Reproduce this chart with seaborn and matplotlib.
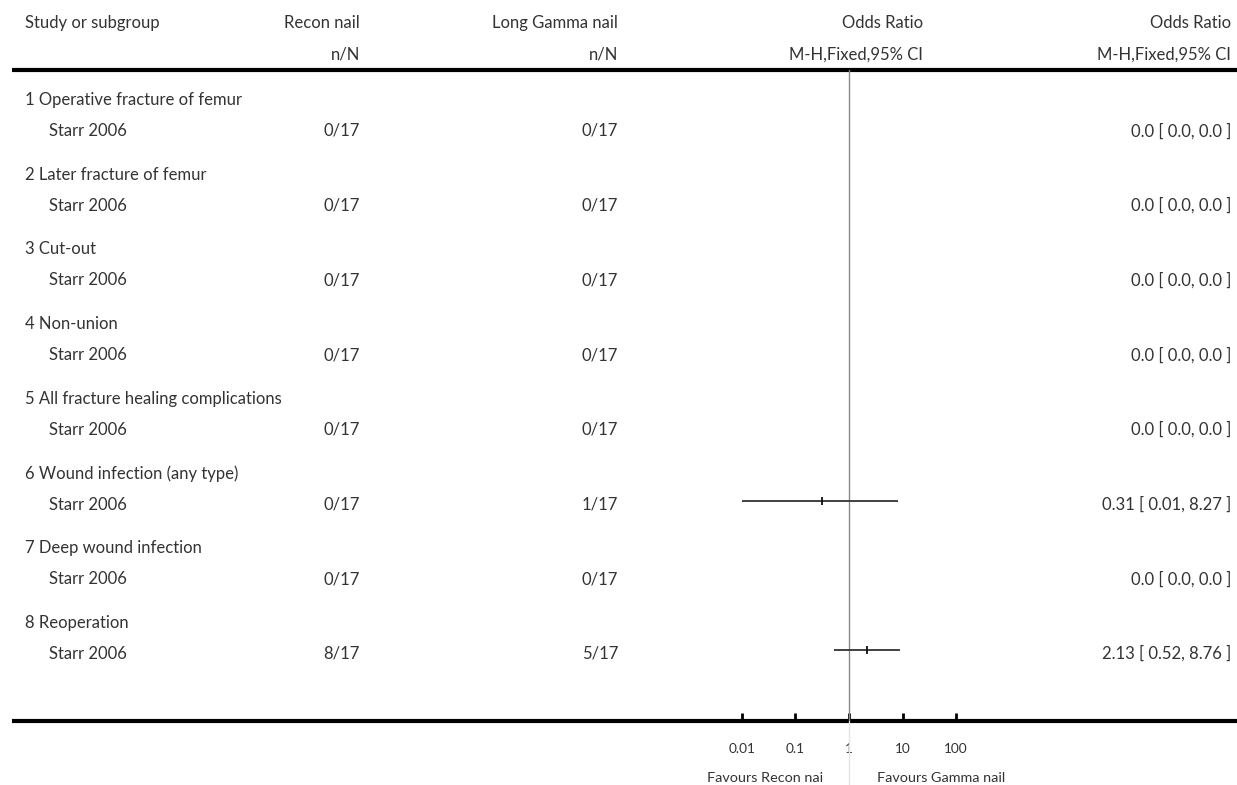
import matplotlib
matplotlib.use("Agg")
import matplotlib.pyplot as plt
import seaborn as sns
import pandas as pd
import numpy as np

# ---------------- data ----------------
outcomes = [
    "1 Operative fracture of femur",
    "2 Later fracture of femur",
    "3 Cut-out",
    "4 Non-union",
    "5 All fracture healing complications",
    "6 Wound infection (any type)",
    "7 Deep wound infection",
    "8 Reoperation",
]
studies = ["Starr 2006"] * 8
recon_events = [0, 0, 0, 0, 0, 0, 0, 8]
recon_total = [17, 17, 17, 17, 17, 17, 17, 17]
gamma_events = [0, 0, 0, 0, 0, 1, 0, 5]
gamma_total = [17, 17, 17, 17, 17, 17, 17, 17]
or_est = [None, None, None, None, None, 0.31, None, 2.13]
ci_low = [None, None, None, None, None, 0.01, None, 0.52]
ci_high = [None, None, None, None, None, 8.27, None, 8.76]
or_text = ["0.0 [ 0.0, 0.0 ]"] * 5 + ["0.31 [ 0.01, 8.27 ]", "0.0 [ 0.0, 0.0 ]", "2.13 [ 0.52, 8.76 ]"]
tick_vals = [0.01, 0.1, 1, 10, 100]
tick_labels = ["0.01", "0.1", "1", "10", "100"]
favours_left = "Favours Recon nai"
favours_right = "Favours Gamma nail"

# ---------------- style ----------------
sns.set_theme(style="white")
plt.rcParams["font.family"] = ["Lato", "DejaVu Sans"]
TXT = "#333333"
FS = 12.0

W, H = 1237, 785
fig = plt.figure(figsize=(W / 100, H / 100), dpi=100)
bg = fig.add_axes([0, 0, 1, 1])
bg.set_xlim(0, W)
bg.set_ylim(H, 0)
bg.axis("off")

# layout (pixel positions)
x_study, x_sub = 25, 49
x_recon, x_gamma, x_or_hdr, x_or_txt = 360, 618, 923, 1231
y_top_line, y_bot_line = 70, 721
y_group0, row_step, sub_off = 100, 74.7, 31

def t(x, y, s, ha="left", size=FS, **kw):
    bg.text(x, y, s, ha=ha, va="center", fontsize=size, color=TXT, **kw)

# header
t(x_study, 23, "Study or subgroup")
t(x_recon, 23, "Recon nail", ha="right")
t(x_gamma, 23, "Long Gamma nail", ha="right")
t(x_or_hdr, 23, "Odds Ratio", ha="right")
t(x_or_txt, 23, "Odds Ratio", ha="right")
t(x_recon, 55, "n/N", ha="right")
t(x_gamma, 55, "n/N", ha="right")
t(x_or_hdr, 55, "M-H,Fixed,95% CI", ha="right")
t(x_or_txt, 55, "M-H,Fixed,95% CI", ha="right")
bg.plot([12, W], [y_top_line, y_top_line], color="black", lw=3, solid_capstyle="butt")
bg.plot([12, W], [y_bot_line, y_bot_line], color="black", lw=3, solid_capstyle="butt")

# rows
row_y = []
for i, name in enumerate(outcomes):
    yg = y_group0 + i * row_step
    ys = yg + sub_off
    row_y.append(ys - 4)
    t(x_study, yg, name)
    t(x_sub, ys, studies[i])
    t(x_recon, ys, f"{recon_events[i]}/{recon_total[i]}", ha="right")
    t(x_gamma, ys, f"{gamma_events[i]}/{gamma_total[i]}", ha="right")
    t(x_or_txt, ys, or_text[i], ha="right")

# ---------------- forest axes ----------------
px_per_dec = 53.6
center_x = 849
left_px = center_x - 3 * px_per_dec
ax = fig.add_axes([left_px / W, (H - y_bot_line) / H, 6 * px_per_dec / W, (y_bot_line - y_top_line) / H])
ax.set_xscale("log")
ax.set_xlim(1e-3, 1e3)
ax.set_ylim(y_bot_line, y_top_line)
ax.patch.set_alpha(0)
for s in ax.spines.values():
    s.set_visible(False)

df = pd.DataFrame({"y": row_y, "est": or_est, "lo": ci_low, "hi": ci_high}).dropna()
ax.hlines(df["y"], df["lo"], df["hi"], color="#333333", lw=1.3, zorder=3)
sns.scatterplot(data=df, x="est", y="y", marker="|", s=30, color="#111111",
                linewidth=1.3, ax=ax, zorder=4, legend=False)
ax.axvline(1, color="#8a8a8a", lw=1, zorder=2)
ax.plot([1, 1], [y_bot_line, H], color="#e2e2e2", lw=1, clip_on=False, zorder=1)

ax.set_xticks(tick_vals)
ax.set_xticklabels(tick_labels)
ax.minorticks_off()
ax.set_yticks([])
ax.set_xlabel("")
ax.set_ylabel("")
ax.tick_params(axis="x", direction="in", length=5.5, width=2, color="black",
               pad=16, labelsize=9.8, labelcolor=TXT, bottom=True)

t(center_x - 26, 778, favours_left, ha="right", size=10.4)
t(center_x + 28, 778, favours_right, ha="left", size=10.4)

fig.savefig("out.png", dpi=100, facecolor="white")
